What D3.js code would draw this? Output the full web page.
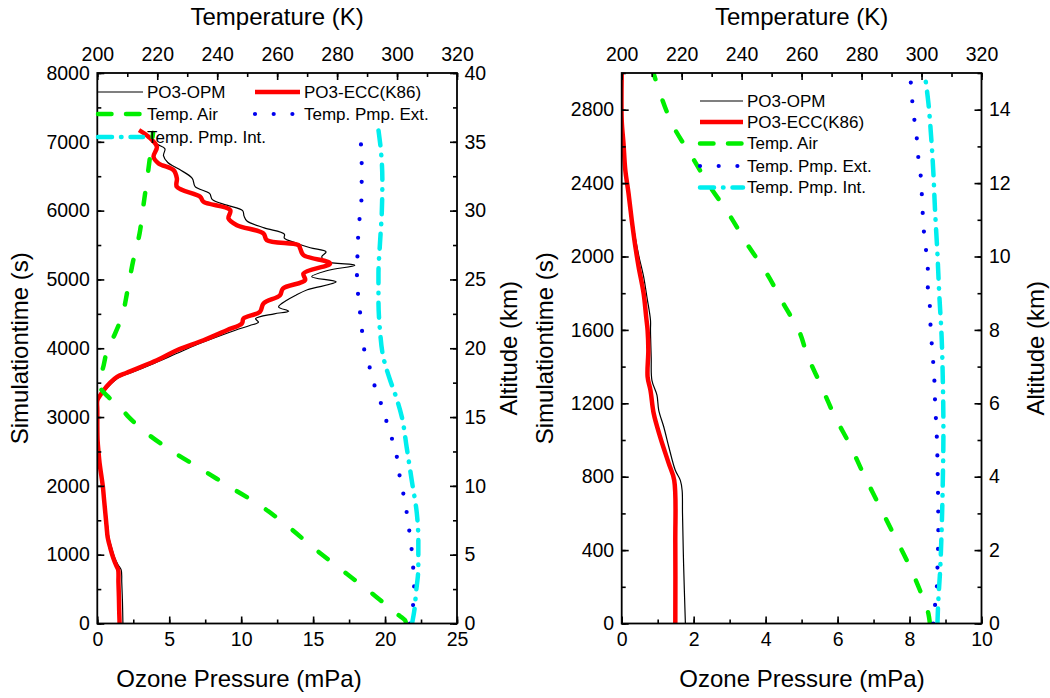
<!DOCTYPE html>
<html><head><meta charset="utf-8">
<script src="https://cdn.jsdelivr.net/npm/d3@7"></script>
<style>
body{margin:0;background:#fff;}
text{font-family:"Liberation Sans",Arial,Helvetica,sans-serif;fill:#000;}
</style></head><body>
<svg id="c" width="1050" height="698"></svg>
<script>
// ---------- tick labels ----------
const tempTicks = [200,220,240,260,280,300,320];
const leftOzoneTicks = [0,5,10,15,20,25];
const leftTimeTicks = [0,1000,2000,3000,4000,5000,6000,7000,8000];
const leftAltTicks = [0,5,10,15,20,25,30,35,40];
const rightOzoneTicks = [0,2,4,6,8,10];
const rightTimeTicks = [0,400,800,1200,1600,2000,2400,2800];
const rightAltTicks = [0,2,4,6,8,10,12,14];
const seriesNames = ["PO3-OPM","PO3-ECC(K86)","Temp. Air","Temp. Pmp. Ext.","Temp. Pmp. Int."];
const axisTitles = {temp:"Temperature (K)", ozone:"Ozone Pressure (mPa)", time:"Simulationtime (s)", alt:"Altitude (km)"};

// ---------- left panel: [simulation time s, ozone mPa] ----------
const leftOPM = [[0,1.78],[300,1.75],[600,1.7],[780,1.66],[850,1.45],[960,1.2],[1100,1.0],[1256,0.8],[1400,0.72],[1600,0.62],[1800,0.52],[1983,0.44],[2150,0.32],[2327,0.2],[2500,0.1],[2660,0.04],[2900,0.02],[3100,0.02],[3243,0.05],[3300,0.2],[3389,0.55],[3500,1.05],[3583,1.55],[3650,2.4],[3777,3.9],[3923,5.5],[4050,6.9],[4116,7.7],[4262,9.6],[4330,10.6],[4380,11.2],[4430,11.0],[4500,12.3],[4540,13.3],[4600,12.6],[4700,13.2],[4771,13.8],[4850,14.6],[4965,16.6],[5040,14.9],[5130,16.0],[5207,17.9],[5260,15.9],[5330,15.6],[5400,15.9],[5460,14.8],[5530,13.8],[5600,13.0],[5660,13.0],[5750,11.6],[5850,10.4],[5920,10.2],[6000,10.1],[6080,9.0],[6160,8.0],[6250,7.8],[6350,6.8],[6470,6.6],[6600,5.7],[6700,4.9],[6800,4.6],[6900,4.7],[6960,4.2],[7020,3.8]];
const leftECC = [[0,1.55],[200,1.52],[400,1.5],[600,1.47],[780,1.45],[850,1.3],[960,1.1],[1100,0.9],[1256,0.72],[1400,0.65],[1600,0.56],[1800,0.47],[1983,0.39],[2150,0.28],[2327,0.16],[2500,0.08],[2660,0.02],[2900,0.0],[3100,0.0],[3243,0.0],[3300,0.15],[3389,0.44],[3500,0.9],[3583,1.37],[3640,2.0],[3705,2.75],[3825,4.14],[3971,5.53],[4116,7.38],[4262,9.0],[4359,10.05],[4432,10.16],[4528,11.3],[4650,11.55],[4771,12.7],[4868,12.9],[4990,14.44],[5087,14.33],[5232,16.18],[5353,14.33],[5450,14.1],[5498,13.98],[5571,11.78],[5668,11.55],[5789,9.7],[5886,9.12],[6007,9.24],[6128,7.38],[6201,7.15],[6346,5.53],[6468,5.53],[6589,5.3],[6686,4.26],[6783,3.91],[6928,4.14],[7074,3.56],[7170,2.9]];
// [simulation time s, temperature K]
const leftAir = [[0,303],[44,302.7],[141,299.9],[383,293.2],[723,283.2],[1062,273.2],[1425,263.2],[1716,254.3],[1983,244.3],[2225,235.4],[2492,225.4],[2783,216],[3000,210.5],[3146,207.5],[3300,203.5],[3450,200.8],[3560,200.6],[3700,201.8],[3971,203.3],[4200,205.8],[4460,208.2],[4844,210.1],[5256,211.9],[5668,214.1],[6080,215.4],[6516,216.8],[6928,218],[7130,218.6]];
const leftExt = [[0,304.3],[250,305.3],[524,305.7],[800,305.4],[1062,304.9],[1343,304.1],[1619,303.2],[1886,302.1],[2162,300.8],[2429,299.9],[2701,298.2],[2977,296.2],[3243,294.3],[3510,292.1],[3801,290.4],[4068,288.6],[4335,288.2],[4611,287.4],[4892,286.8],[5159,286.6],[5425,286.9],[5706,287.1],[5968,287.7],[6240,288.2],[6516,288.2],[6783,288.2],[7065,287.7]];
const leftInt = [[0,305],[200,305.8],[436,306.3],[819,307.1],[1207,307.1],[1600,306.6],[2080,304.9],[2564,303.2],[3000,301.6],[3341,299.3],[3535,297.7],[3874,295.4],[4262,294.3],[4698,293.8],[5086,293.8],[5522,294.3],[5959,294.9],[6443,295.1],[6831,294.7],[7170,293.8]];

// ---------- right panel ----------
const rightOPM = [[0,1.77],[325,1.72],[600,1.69],[725,1.68],[780,1.63],[835,1.49],[962,1.31],[1071,1.17],[1162,1.03],[1244,0.98],[1325,0.84],[1450,0.82],[1598,0.8],[1653,0.8],[1780,0.7],[1889,0.61],[2000,0.48],[2100,0.38],[2200,0.3],[2344,0.2],[2471,0.11],[2616,0.05],[2744,0.0],[3000,0.0]];
const rightECC = [[0,1.49],[435,1.49],[780,1.46],[871,1.31],[1016,1.07],[1144,0.89],[1271,0.8],[1344,0.72],[1489,0.74],[1598,0.72],[1671,0.68],[1798,0.61],[1944,0.47],[2053,0.38],[2198,0.28],[2344,0.19],[2471,0.1],[2616,0.05],[2744,0.0],[3000,0.0]];
const rightAir = [[0,302.8],[53,302.3],[180,299.5],[344,295.1],[489,290.6],[653,285.6],[816,280.6],[971,276.2],[1125,271.2],[1307,266.2],[1471,261.7],[1580,259.5],[1744,253.9],[1907,248.4],[2071,241.7],[2235,235.6],[2380,229.5],[2544,223.4],[2707,217.3],[2889,212.8],[3000,210.6]];
const rightExt = [[0,303.9],[98,304.5],[198,305.1],[298,305.3],[507,305.6],[807,305.4],[1016,305.1],[1116,304.8],[1216,304.5],[1320,304.3],[1422,303.9],[1526,303.4],[1625,303],[1725,302.8],[1829,302.1],[1935,302.1],[2035,301.5],[2135,300.8],[2235,300.4],[2338,300.1],[2444,299.7],[2544,298.9],[2647,298.4],[2747,297.6],[2849,296.9],[2953,296.4]];
const rightInt = [[0,305.3],[125,305.6],[289,306.2],[507,306.7],[780,307.1],[1053,307.3],[1325,307.1],[1562,306.7],[1798,305.9],[2016,305.3],[2253,304.5],[2471,303.9],[2653,303.2],[2835,302.3],[2980,301.2]];

// ---------- styles ----------
const styles = [
  {stroke:"#000000", width:1.2, dash:null, cap:"butt", kind:"oz"},
  {stroke:"#ff0000", width:4.5, dash:null, cap:"butt", kind:"oz"},
  {stroke:"#00ee00", width:4.5, dash:"11.5,22.5", legDash:"13.5,14.5", cap:"round", kind:"temp"},
  {stroke:"#0000ee", width:4.2, dash:"0,18.7", legDash:"0,18.7", cap:"round", kind:"temp"},
  {stroke:"#00eeee", width:4.5, dash:"15,9.5,0.5,9.5", legDash:"14,9,0.5,9", cap:"round", kind:"temp"}
];

const svg = d3.select("#c");
const panels = [
  {x0:97.3, x1:457, y0:73, y1:623.5, oz:[0,25], time:[0,8000], alt:[0,40],
   ozT:leftOzoneTicks, ozMinor:2.5, timeT:leftTimeTicks, timeMinor:500, altT:leftAltTicks, altMinor:2.5,
   data:[leftOPM,leftECC,leftAir,leftExt,leftInt],
   leftTitleX:28, rightTitleX:517, bottomTitleX:239,
   legend:[{x:98,y:92},{x:255,y:92},{x:98,y:114},{x:255,y:114},{x:98,y:137}], legLen:45},
  {x0:621.7, x1:981.5, y0:73, y1:623.5, oz:[0,10], time:[0,3000], alt:[0,15],
   ozT:rightOzoneTicks, ozMinor:1, timeT:rightTimeTicks, timeMinor:200, altT:rightAltTicks, altMinor:1,
   data:[rightOPM,rightECC,rightAir,rightExt,rightInt],
   leftTitleX:553, rightTitleX:1044, bottomTitleX:802,
   legend:[{x:700,y:101},{x:700,y:122},{x:700,y:143.5},{x:700,y:166},{x:700,y:187.5}], legLen:43}
];

const TICK_FS = 19.5, TITLE_FS = 24, LEG_FS = 17;
const MAJ = 7, MIN = 4;

function rangeStep(d, s){ const out=[]; for(let v=d[0]; v<=d[1]+1e-9; v+=s) out.push(+v.toFixed(6)); return out; }

panels.forEach((p, pi) => {
  const g = svg.append("g");
  const xOz = d3.scaleLinear().domain(p.oz).range([p.x0, p.x1]);
  const xT = d3.scaleLinear().domain([200,320]).range([p.x0, p.x1]);
  const yTime = d3.scaleLinear().domain(p.time).range([p.y1, p.y0]);
  const yAlt = d3.scaleLinear().domain(p.alt).range([p.y1, p.y0]);

  const clipId = "clip"+pi;
  svg.append("clipPath").attr("id", clipId).append("rect")
    .attr("x", p.x0).attr("y", p.y0).attr("width", p.x1-p.x0).attr("height", p.y1-p.y0);

  // curves
  const plot = g.append("g").attr("clip-path", `url(#${clipId})`);
  p.data.forEach((d, i) => {
    const st = styles[i];
    const xs = st.kind === "oz" ? xOz : xT;
    const line = d3.line().x(e => xs(e[1])).y(e => yTime(e[0]))
      .curve(st.kind === "oz" ? d3.curveCatmullRom.alpha(0.5) : d3.curveMonotoneY);
    plot.append("path").datum(d).attr("d", line)
      .attr("fill","none").attr("stroke", st.stroke).attr("stroke-width", st.width)
      .attr("stroke-linecap", st.cap).attr("stroke-linejoin","round")
      .attr("stroke-dasharray", st.dash);
  });

  // axes
  function styleAxis(sel){
    sel.selectAll(".domain").remove();
    sel.selectAll(".tick line").attr("stroke","#000").attr("stroke-width",1.6);
    sel.selectAll(".tick text").style("font-size", TICK_FS+"px").attr("fill","#000");
  }
  const fmt = d3.format("d");
  g.append("g").attr("transform",`translate(0,${p.y1})`)
    .call(d3.axisBottom(xOz).tickValues(p.ozT).tickFormat(fmt).tickSizeInner(-MAJ).tickSizeOuter(0).tickPadding(9)).call(styleAxis);
  g.append("g").attr("transform",`translate(0,${p.y1})`)
    .call(d3.axisBottom(xOz).tickValues(rangeStep(p.oz, p.ozMinor)).tickFormat("").tickSizeInner(-MIN).tickSizeOuter(0)).call(styleAxis);
  g.append("g").attr("transform",`translate(0,${p.y0})`)
    .call(d3.axisTop(xT).tickValues(tempTicks).tickFormat(fmt).tickSizeInner(-MAJ).tickSizeOuter(0).tickPadding(12)).call(styleAxis);
  g.append("g").attr("transform",`translate(0,${p.y0})`)
    .call(d3.axisTop(xT).tickValues(rangeStep([200,320],10)).tickFormat("").tickSizeInner(-MIN).tickSizeOuter(0)).call(styleAxis);
  g.append("g").attr("transform",`translate(${p.x0},0)`)
    .call(d3.axisLeft(yTime).tickValues(p.timeT).tickFormat(fmt).tickSizeInner(-MAJ).tickSizeOuter(0).tickPadding(7.5)).call(styleAxis);
  g.append("g").attr("transform",`translate(${p.x0},0)`)
    .call(d3.axisLeft(yTime).tickValues(rangeStep(p.time, p.timeMinor)).tickFormat("").tickSizeInner(-MIN).tickSizeOuter(0)).call(styleAxis);
  g.append("g").attr("transform",`translate(${p.x1},0)`)
    .call(d3.axisRight(yAlt).tickValues(p.altT).tickFormat(fmt).tickSizeInner(-MAJ).tickSizeOuter(0).tickPadding(7.5)).call(styleAxis);
  g.append("g").attr("transform",`translate(${p.x1},0)`)
    .call(d3.axisRight(yAlt).tickValues(rangeStep(p.alt, p.altMinor)).tickFormat("").tickSizeInner(-MIN).tickSizeOuter(0)).call(styleAxis);

  // frame
  g.append("rect").attr("x",p.x0).attr("y",p.y0).attr("width",p.x1-p.x0).attr("height",p.y1-p.y0)
    .attr("fill","none").attr("stroke","#000").attr("stroke-width",1.8);

  // titles
  const cx = (p.x0+p.x1)/2, cy = (p.y0+p.y1)/2;
  g.append("text").attr("x",cx).attr("y",25).attr("text-anchor","middle").style("font-size",TITLE_FS+"px").text(axisTitles.temp);
  g.append("text").attr("x",p.bottomTitleX).attr("y",687).attr("text-anchor","middle").style("font-size",TITLE_FS+"px").text(axisTitles.ozone);
  g.append("text").attr("transform",`translate(${p.leftTitleX},${cy}) rotate(-90)`).attr("text-anchor","middle").style("font-size",TITLE_FS+"px").text(axisTitles.time);
  g.append("text").attr("transform",`translate(${p.rightTitleX},${cy}) rotate(-90)`).attr("text-anchor","middle").style("font-size",TITLE_FS+"px").text(axisTitles.alt);

  // legend
  const lg = g.append("g");
  seriesNames.forEach((name, i) => {
    const st = styles[i], pos = p.legend[i];
    lg.append("line").attr("x1",pos.x).attr("x2",pos.x+p.legLen).attr("y1",pos.y).attr("y2",pos.y)
      .attr("stroke",st.stroke).attr("stroke-width",st.width).attr("stroke-linecap",st.cap)
      .attr("stroke-dasharray", st.legDash || null);
    lg.append("text").attr("x",pos.x+p.legLen+4).attr("y",pos.y).attr("dy","0.35em")
      .style("font-size",LEG_FS+"px").text(name);
  });
});
</script>
</body></html>
